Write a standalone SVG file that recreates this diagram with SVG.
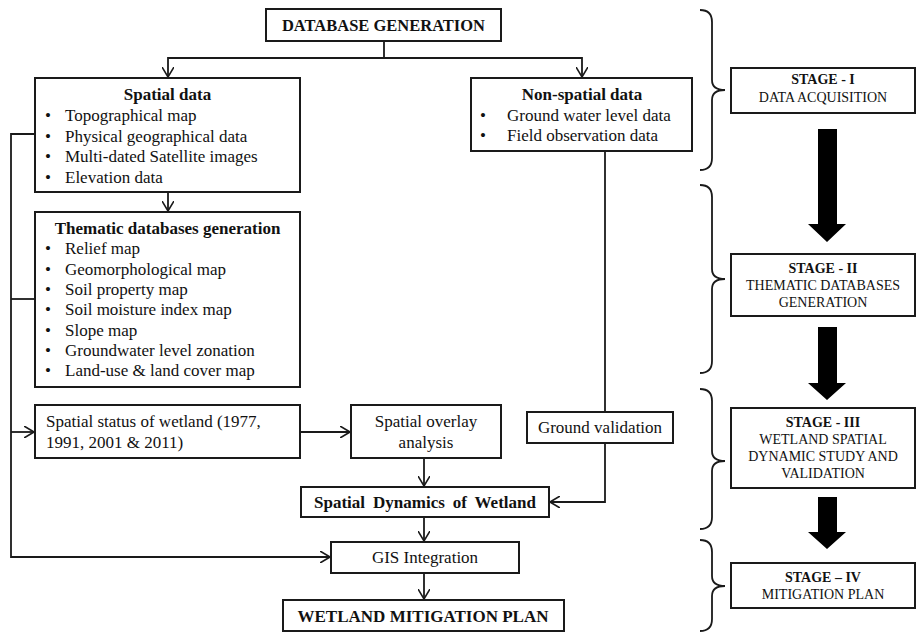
<svg xmlns="http://www.w3.org/2000/svg" width="917" height="632" viewBox="0 0 917 632">
<style>
  .box { fill: #fff; stroke: #1a1a1a; stroke-width: 2; }
  .t { font-family: "Liberation Serif", "Times New Roman", serif; font-size: 17px; fill: #111; }
  .b { font-weight: bold; }
  .c { text-anchor: middle; }
  .s { font-family: "Liberation Serif", "Times New Roman", serif; font-size: 14px; fill: #111; text-anchor: middle; }
  .conn { fill: none; stroke: #1a1a1a; stroke-width: 1.8; }
  .brace { fill: none; stroke: #1a1a1a; stroke-width: 1.8; }
  .big { fill: #000; }
</style>
<defs>
  <marker id="arr" viewBox="0 0 10 12" refX="10" refY="6" markerWidth="10" markerHeight="12" markerUnits="userSpaceOnUse" orient="auto">
    <path d="M0,0 L10,6 L0,12" fill="none" stroke="#1a1a1a" stroke-width="1.6"/>
  </marker>
</defs>

<g id="connectors">
  <path class="conn" d="M384,41 V58 H168 V77" marker-end="url(#arr)"/>
  <path class="conn" d="M384,58 H582 V77" marker-end="url(#arr)"/>
  <path class="conn" d="M168,192 V211" marker-end="url(#arr)"/>
  <path class="conn" d="M35,134 H11 V557 H330" marker-end="url(#arr)"/>
  <path class="conn" d="M35,299 H11"/>
  <path class="conn" d="M11,432 H34" marker-end="url(#arr)"/>
  <path class="conn" d="M300,432 H350" marker-end="url(#arr)"/>
  <path class="conn" d="M424,458 V486" marker-end="url(#arr)"/>
  <path class="conn" d="M605,151 V412"/>
  <path class="conn" d="M605,443 V502 H550" marker-end="url(#arr)"/>
  <path class="conn" d="M424,517 V541" marker-end="url(#arr)"/>
  <path class="conn" d="M424,573 V599" marker-end="url(#arr)"/>
</g>

<g id="database-generation">
  <rect class="box" x="266" y="9" width="235" height="32"/>
  <text class="t b c" x="383.5" y="31" style="font-size:16.5px">DATABASE GENERATION</text>
</g>

<g id="spatial-data">
  <rect class="box" x="35" y="78" width="265" height="114"/>
  <text class="t b c" x="167.5" y="100">Spatial data</text>
  <text class="t c" x="48" y="121">•</text><text class="t" x="65" y="121">Topographical map</text>
  <text class="t c" x="48" y="141.5">•</text><text class="t" x="65" y="141.5">Physical geographical data</text>
  <text class="t c" x="48" y="162">•</text><text class="t" x="65" y="162">Multi-dated Satellite images</text>
  <text class="t c" x="48" y="182.5">•</text><text class="t" x="65" y="182.5">Elevation data</text>
</g>

<g id="non-spatial-data">
  <rect class="box" x="471" y="78" width="221" height="73"/>
  <text class="t b c" x="582" y="100">Non-spatial data</text>
  <text class="t c" x="483" y="121">•</text><text class="t" x="507" y="121">Ground water level data</text>
  <text class="t c" x="483" y="141">•</text><text class="t" x="507" y="141">Field observation data</text>
</g>

<g id="thematic-databases">
  <rect class="box" x="35" y="212" width="265" height="175"/>
  <text class="t b c" x="167.5" y="234">Thematic databases generation</text>
  <text class="t c" x="48" y="254">•</text><text class="t" x="65" y="254">Relief map</text>
  <text class="t c" x="48" y="274.5">•</text><text class="t" x="65" y="274.5">Geomorphological map</text>
  <text class="t c" x="48" y="295">•</text><text class="t" x="65" y="295">Soil property map</text>
  <text class="t c" x="48" y="315">•</text><text class="t" x="65" y="315">Soil moisture index map</text>
  <text class="t c" x="48" y="335.5">•</text><text class="t" x="65" y="335.5">Slope map</text>
  <text class="t c" x="48" y="356">•</text><text class="t" x="65" y="356">Groundwater level zonation</text>
  <text class="t c" x="48" y="376">•</text><text class="t" x="65" y="376">Land-use &amp; land cover map</text>
</g>

<g id="spatial-status">
  <rect class="box" x="35" y="405" width="265" height="53"/>
  <text class="t" x="46" y="427">Spatial status of wetland (1977,</text>
  <text class="t" x="46" y="448">1991, 2001 &amp; 2011)</text>
</g>

<g id="spatial-overlay">
  <rect class="box" x="351" y="405" width="150" height="53"/>
  <text class="t c" x="426" y="427">Spatial overlay</text>
  <text class="t c" x="426" y="448">analysis</text>
</g>

<g id="ground-validation">
  <rect class="box" x="527" y="412" width="146" height="31"/>
  <text class="t c" x="600" y="433">Ground validation</text>
</g>

<g id="spatial-dynamics">
  <rect class="box" x="301" y="487" width="248" height="30"/>
  <text class="t b c" x="425" y="508" style="word-spacing:3.7px">Spatial Dynamics of Wetland</text>
</g>

<g id="gis-integration">
  <rect class="box" x="331" y="542" width="188" height="31"/>
  <text class="t c" x="425" y="563">GIS Integration</text>
</g>

<g id="mitigation-plan">
  <rect class="box" x="283" y="600" width="281" height="31"/>
  <text class="t b c" x="423" y="622">WETLAND MITIGATION PLAN</text>
</g>

<g id="braces">
  <path class="brace" d="M700,10 Q712,10 712,22 V80 Q712,90 725,90 Q712,90 712,100 V158 Q712,170 700,170"/>
  <path class="brace" d="M700,185 Q712,185 712,197 V269 Q712,279 725,279 Q712,279 712,289 V361 Q712,373 700,373"/>
  <path class="brace" d="M700,389 Q712,389 712,401 V451 Q712,461 725,461 Q712,461 712,471 V517 Q712,529 700,529"/>
  <path class="brace" d="M700,540 Q712,540 712,552 V576 Q712,586 725,586 Q712,586 712,596 V619 Q712,631 700,631"/>
</g>

<g id="stage-1">
  <rect class="box" x="731" y="68" width="184" height="45"/>
  <text class="s b" x="823" y="84">STAGE - I</text>
  <text class="s" x="823" y="102">DATA ACQUISITION</text>
</g>

<g id="stage-2">
  <rect class="box" x="731" y="254" width="184" height="62"/>
  <text class="s b" x="823" y="273">STAGE - II</text>
  <text class="s" x="823" y="290">THEMATIC DATABASES</text>
  <text class="s" x="823" y="307">GENERATION</text>
</g>

<g id="stage-3">
  <rect class="box" x="731" y="408" width="184" height="80"/>
  <text class="s b" x="823" y="427">STAGE - III</text>
  <text class="s" x="823" y="444">WETLAND SPATIAL</text>
  <text class="s" x="823" y="461">DYNAMIC STUDY AND</text>
  <text class="s" x="823" y="478">VALIDATION</text>
</g>

<g id="stage-4">
  <rect class="box" x="731" y="563" width="184" height="45"/>
  <text class="s b" x="823" y="582">STAGE – IV</text>
  <text class="s" x="823" y="599">MITIGATION PLAN</text>
</g>

<g id="stage-arrows">
  <polygon class="big" points="818,129 837,129 837,224 846,224 827,242 808,224 818,224"/>
  <polygon class="big" points="818,327 837,327 837,383 846,383 827,400 808,383 818,383"/>
  <polygon class="big" points="818,497 837,497 837,532 846,532 827,549 808,532 818,532"/>
</g>
</svg>
